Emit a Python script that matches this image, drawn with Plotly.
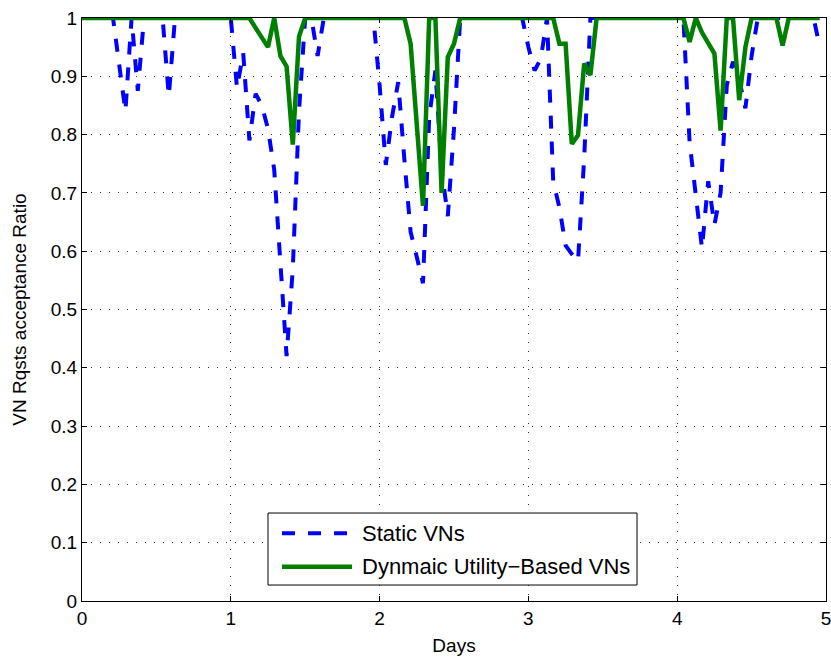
import plotly.graph_objects as go

# hourly samples, days 0 .. 4.958
hours = list(range(120))
days = [h / 24 for h in hours]

static_vns = [
    1, 1, 1, 1, 1, 1, 0.92, 0.84, 1.0, 0.875,
    1.0, 1, 1, 1, 0.866, 1, 1, 1, 1, 1,
    1, 1, 1, 1, 1.0, 0.88, 0.94, 0.79, 0.87, 0.85,
    0.81, 0.74, 0.57, 0.42, 0.57, 0.84, 1.0, 1.0, 0.935, 1.0,
    1, 1, 1, 1, 1, 1, 1, 1.0, 0.885, 0.748,
    0.83, 0.89, 0.757, 0.633, 0.59, 0.545, 0.83, 0.91, 0.74, 0.66,
    0.81, 1.0, 1, 1, 1, 1, 1, 1, 1, 1,
    1, 1.0, 0.95, 0.91, 0.93, 1.0, 0.72, 0.675, 0.61, 0.595,
    0.583, 0.76, 1.0, 1, 1, 1, 1, 1, 1, 1,
    1, 1, 1, 1, 1, 1, 1, 1.0, 0.787, 0.695,
    0.605, 0.72, 0.645, 0.70, 0.885, 0.925, 0.895, 0.845, 0.935, 1.0,
    1, 1, 1, 1, 1, 1, 1, 1, 1.0, 0.95,
]

dynamic_vns = [
    1, 1, 1, 1, 1, 1, 1, 1, 1, 1,
    1, 1, 1, 1, 1, 1, 1, 1, 1, 1,
    1, 1, 1, 1, 1, 1, 1, 1, 0.983, 0.967,
    0.95, 1.0, 0.935, 0.917, 0.783, 0.968, 1, 1, 1, 1,
    1, 1, 1, 1, 1, 1, 1, 1, 1, 1,
    1, 1, 1.0, 0.956, 0.817, 0.678, 1.0, 1.0, 0.70, 0.933,
    0.956, 1, 1, 1, 1, 1, 1, 1, 1, 1,
    1, 1, 1, 1, 1, 1, 1.0, 0.956, 0.956, 0.784,
    0.799, 0.922, 0.902, 1, 1, 1, 1, 1, 1, 1,
    1, 1, 1, 1, 1, 1, 1, 1.0, 0.959, 1.0,
    0.975, 0.955, 0.939, 0.807, 1.0, 1.0, 0.859, 0.95, 1, 1,
    1, 1, 1, 0.953, 1, 1, 1, 1, 1, 1,
]

series_names = ["Static VNs", "Dynmaic Utility\u2212Based VNs"]

x_ticks = [0, 1, 2, 3, 4, 5]
y_ticks = [0, 0.1, 0.2, 0.3, 0.4, 0.5, 0.6, 0.7, 0.8, 0.9, 1]
y_tick_text = ["0", "0.1", "0.2", "0.3", "0.4", "0.5", "0.6", "0.7", "0.8", "0.9", "1"]

FONT = "Liberation Sans, Arial, Helvetica, sans-serif"
BLUE = "rgb(0,0,255)"
GREEN = "rgb(0,128,0)"
BLUE_DASH = "13px,13px"

fig = go.Figure()
fig.add_trace(go.Scatter(
    x=days, y=static_vns, mode="lines", name=series_names[0],
    line=dict(color=BLUE, width=4, dash=BLUE_DASH),
))
fig.add_trace(go.Scatter(
    x=days, y=dynamic_vns, mode="lines", name=series_names[1],
    line=dict(color=GREEN, width=4.5),
))

axis_common = dict(
    showline=True, linecolor="black", linewidth=1, mirror="allticks",
    ticks="inside", ticklen=5, tickcolor="black",
    showgrid=True, gridcolor="rgba(0,0,0,0.8)", gridwidth=1, griddash="1px,8px",
    zeroline=False, automargin=False, ticklabeloverflow="allow",
    tickfont=dict(family=FONT, size=19, color="black"),
)

# legend box drawn in paper coordinates (MATLAB-style long line samples)
box_x0, box_x1, box_y0, box_y1 = 0.25, 0.746, 0.0274, 0.1509
sample_x0, sample_x1 = 0.2688, 0.3629
text_x = 0.3737
row_y = [0.1161, 0.0588]

shapes = [
    dict(type="rect", xref="paper", yref="paper", x0=box_x0, x1=box_x1, y0=box_y0, y1=box_y1,
         fillcolor="white", line=dict(color="black", width=1), layer="above"),
    dict(type="line", xref="paper", yref="paper", x0=sample_x0, x1=sample_x1, y0=row_y[0], y1=row_y[0],
         line=dict(color=BLUE, width=4, dash=BLUE_DASH), layer="above"),
    dict(type="line", xref="paper", yref="paper", x0=sample_x0, x1=sample_x1, y0=row_y[1], y1=row_y[1],
         line=dict(color=GREEN, width=4.5), layer="above"),
]
annotations = [
    dict(xref="paper", yref="paper", x=text_x, y=row_y[i], text=series_names[i],
         showarrow=False, xanchor="left", yanchor="middle",
         font=dict(family=FONT, size=22, color="black"))
    for i in range(2)
]

fig.update_layout(
    width=831, height=657,
    margin=dict(l=82, r=5, t=18, b=56),
    paper_bgcolor="white", plot_bgcolor="white",
    font=dict(family=FONT, color="black"),
    xaxis=dict(range=[0, 5], tickvals=x_ticks, ticktext=[str(t) for t in x_ticks],
               title=dict(text="Days", font=dict(family=FONT, size=19), standoff=10),
               **axis_common),
    yaxis=dict(range=[0, 1], tickvals=y_ticks, ticktext=y_tick_text,
               title=dict(text="VN Rqsts acceptance Ratio", font=dict(family=FONT, size=19), standoff=19),
               **axis_common),
    shapes=shapes,
    annotations=annotations,
    showlegend=False,
)

fig.write_html("out.html")
